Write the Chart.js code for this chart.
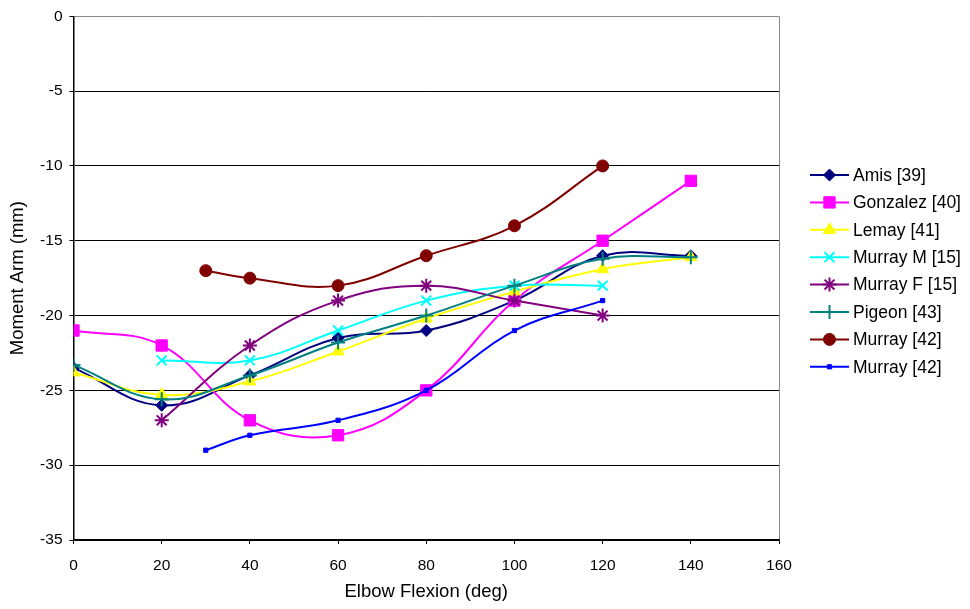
<!DOCTYPE html>
<html>
<head>
<meta charset="utf-8">
<script src="https://cdn.jsdelivr.net/npm/chart.js@4/dist/chart.umd.min.js"></script>
<style>
	html, body { margin: 0; padding: 0; background: #fff; }
	#wrap { width: 970px; height: 609px; }
</style>
</head>
<body>
<div id="wrap"><canvas id="chart" width="970" height="609"></canvas></div>
<script>

// elbow angles (deg) for each group of studies
var anglesFull = [0, 20, 40, 60, 80, 100, 120, 140];
var anglesMurray15 = [20, 40, 60, 80, 100, 120];
var anglesMurray42 = [30, 40, 60, 80, 100, 120];

// moment arm values (mm)
var amis39 = [-23.5, -26, -24, -21.5, -21, -19, -16, -16];
var gonzalez40 = [-21, -22, -27, -28, -25, -19, -15, -11];
var lemay41 = [-23.8, -25.3, -24.4, -22.4, -20.2, -18.4, -16.9, -16.1];
var murrayM15 = [-23, -23, -21, -19, -18, -18];
var murrayF15 = [-27, -22, -19, -18, -19, -20];
var pigeon43 = [-23.3, -25.6, -24, -21.8, -20, -18, -16.2, -16.1];
var murray42a = [-17, -17.5, -18, -16, -14, -10];
var murray42b = [-29, -28, -27, -25, -21, -19];

var seriesNames = ['Amis [39]', 'Gonzalez [40]', 'Lemay [41]', 'Murray M [15]', 'Murray F [15]', 'Pigeon [43]', 'Murray [42]', 'Murray [42]'];

var xTicks = [0, 20, 40, 60, 80, 100, 120, 140, 160];
var yTicks = [0, -5, -10, -15, -20, -25, -30, -35];

var FONT = '"Liberation Sans", Arial, sans-serif';

function toPoints(xs, ys){
	var pts = [];
	for (var i = 0; i < xs.length; i++){
		pts.push({x: xs[i], y: ys[i]});
	}
	return pts;
}

function series(index, xs, ys, color, style, radius, bw){
	return {
		label: seriesNames[index],
		data: toPoints(xs, ys),
		borderColor: color,
		backgroundColor: color,
		borderWidth: 2,
		pointStyle: style,
		pointRadius: radius,
		pointHoverRadius: radius,
		pointBorderWidth: bw,
		pointBackgroundColor: color,
		pointBorderColor: color,
		tension: 0.4,
		order: 10 - index
	};
}

var datasets = [
	series(0, anglesFull, amis39, '#000080', 'rectRot', 6, 1),
	series(1, anglesFull, gonzalez40, '#FF00FF', 'rect', 8, 1),
	series(2, anglesFull, lemay41, '#FFFF00', 'triangle', 7, 1),
	series(3, anglesMurray15, murrayM15, '#00FFFF', 'crossRot', 7, 2),
	series(4, anglesMurray15, murrayF15, '#800080', 'star', 7, 2),
	series(5, anglesFull, pigeon43, '#008080', 'cross', 7, 2),
	series(6, anglesMurray42, murray42a, '#800000', 'circle', 6, 1),
	series(7, anglesMurray42, murray42b, '#0000FF', 'rect', 3, 1)
];

// legend with a short line and the marker, like the original
var lineLegend = {
	id: 'lineLegend',
	afterDraw: function(chart){
		var ctx = chart.ctx;
		var ds = chart.data.datasets;
		ctx.save();
		for (var i = 0; i < ds.length; i++){
			var y = 175 + i * 27.4;
			ctx.strokeStyle = ds[i].borderColor;
			ctx.lineWidth = 2;
			ctx.beginPath();
			ctx.moveTo(810, y);
			ctx.lineTo(849, y);
			ctx.stroke();
			ctx.fillStyle = ds[i].pointBackgroundColor;
			ctx.lineWidth = ds[i].pointBorderWidth;
			Chart.helpers.drawPoint(ctx, {
				pointStyle: ds[i].pointStyle,
				radius: ds[i].pointRadius,
				rotation: 0,
				borderWidth: ds[i].pointBorderWidth
			}, 829.5, y);
			ctx.fillStyle = '#000';
			ctx.font = '17.5px ' + FONT;
			ctx.textBaseline = 'middle';
			ctx.textAlign = 'left';
			ctx.fillText(ds[i].label, 853, y + 1);
		}
		ctx.restore();
	}
};

Chart.defaults.font.family = FONT;
Chart.defaults.color = '#000';

new Chart(document.getElementById('chart'), {
	type: 'line',
	data: { datasets: datasets },
	plugins: [lineLegend],
	options: {
		responsive: false,
		animation: false,
		layout: {
			padding: { left: 0, top: 14, right: 191, bottom: 0 }
		},
		plugins: {
			legend: { display: false },
			tooltip: { enabled: false }
		},
		scales: {
			x: {
				type: 'linear',
				min: 0,
				max: 160,
				afterBuildTicks: function(scale){
					scale.ticks = xTicks.map(function(v){ return {value: v}; });
				},
				afterFit: function(scale){ scale.height = 69; },
				grid: {
					color: function(c){ return c.tick && c.tick.value === 160 ? '#888' : 'rgba(0,0,0,0)'; },
					tickColor: '#000',
					tickLength: 4,
					lineWidth: 1
				},
				border: { color: '#000', width: 1.5 },
				ticks: {
					font: { size: 15.5 },
					padding: 12,
					maxRotation: 0
				},
				title: {
					display: true,
					text: 'Elbow Flexion (deg)',
					font: { size: 18.5 },
					padding: { top: 0, bottom: 6 }
				}
			},
			y: {
				min: -35,
				max: 0,
				afterBuildTicks: function(scale){
					scale.ticks = yTicks.map(function(v){ return {value: v}; });
				},
				afterFit: function(scale){ scale.width = 73.5; },
				grid: {
					color: function(c){ return c.tick && c.tick.value === 0 ? '#888' : '#000'; },
					tickColor: '#000',
					tickLength: 4,
					lineWidth: 1
				},
				border: { color: '#000', width: 1.5 },
				ticks: {
					font: { size: 15.5 },
					padding: 7
				},
				title: {
					display: true,
					text: 'Moment Arm (mm)',
					font: { size: 18.5 },
					padding: { top: 7, bottom: 0 }
				}
			}
		}
	}
});

</script>
</body>
</html>
